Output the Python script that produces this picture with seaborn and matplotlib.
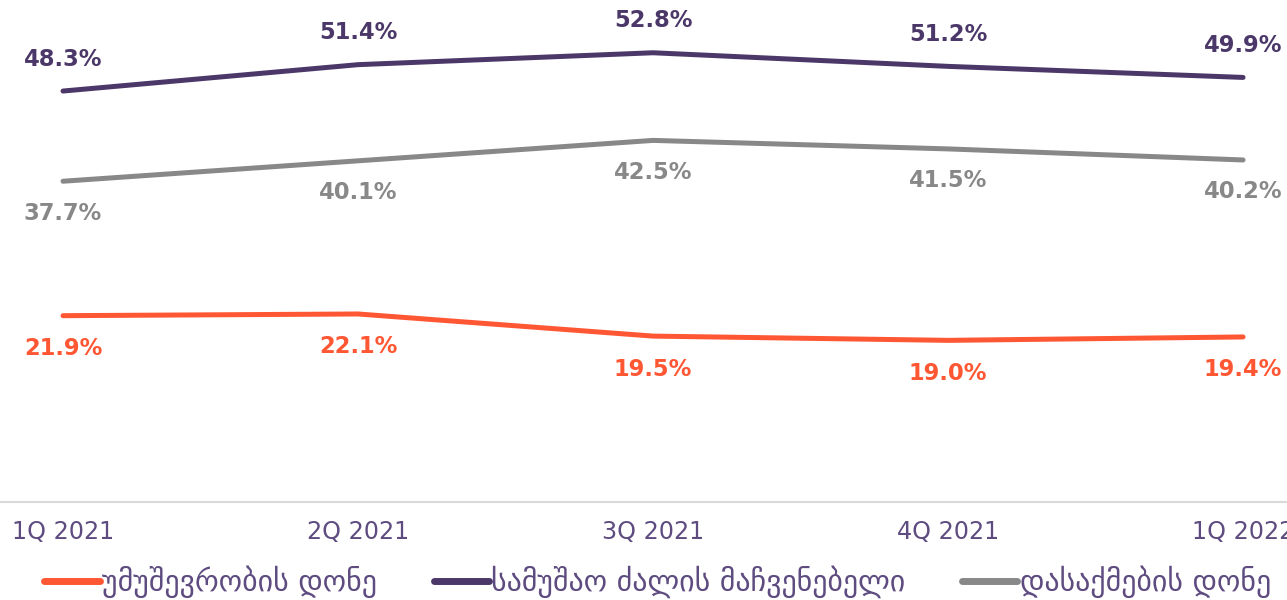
import matplotlib
matplotlib.use("Agg")
import matplotlib.pyplot as plt
import seaborn as sns
import pandas as pd
from matplotlib.lines import Line2D

quarters = ["1Q 2021", "2Q 2021", "3Q 2021", "4Q 2021", "1Q 2022"]
unemployment = [21.9, 22.1, 19.5, 19.0, 19.4]
labor_force = [48.3, 51.4, 52.8, 51.2, 49.9]
employment = [37.7, 40.1, 42.5, 41.5, 40.2]
series_names = ["უმუშევრობის დონე", "სამუშაო ძალის მაჩვენებელი", "დასაქმების დონე"]
colors = ["#FF5733", "#4B3869", "#888888"]

sns.set_theme(style="white")
plt.rcParams['font.family'] = ['DejaVu Sans']

rows = []
for name, vals in zip(series_names, [unemployment, labor_force, employment]):
    for i, (q, v) in enumerate(zip(quarters, vals)):
        rows.append({"idx": i, "quarter": q, "value": v, "series": name})
df = pd.DataFrame(rows)

fig = plt.figure(figsize=(12.87, 6.0), dpi=100)
ax = fig.add_axes([0, 0.1633, 1, 0.8367])
sns.lineplot(data=df, x="idx", y="value", hue="series", hue_order=series_names,
             palette=colors, linewidth=3.6, ax=ax, legend=False)
for line in ax.lines:
    line.set_solid_capstyle("round")

offsets = {series_names[0]: -33, series_names[1]: 32, series_names[2]: -32}
for name, vals, c in zip(series_names, [unemployment, labor_force, employment], colors):
    for i, v in enumerate(vals):
        ax.annotate(f"{v:.1f}%", (i, v), xytext=(0, offsets[name]), textcoords="offset pixels",
                    ha="center", va="center", fontsize=16.3, fontweight="bold", color=c)

ax.set_xlim(-0.2136, 4.149)
ax.set_ylim(0, 59.0)
ax.set_xticks(range(len(quarters)))
ax.set_xticklabels(quarters, fontsize=17.2, color="#5E4C80")
ax.tick_params(axis="x", length=0, pad=13)
ax.set_yticks([])
ax.set_xlabel("")
ax.set_ylabel("")
for s in ["top", "left", "right"]:
    ax.spines[s].set_visible(False)
ax.spines["bottom"].set_color("#D9D9D9")
ax.spines["bottom"].set_linewidth(1.5)

handles = [Line2D([0], [0], color=c, linewidth=5, solid_capstyle="round") for c in colors]
leg = fig.legend(handles, series_names, loc="center", bbox_to_anchor=(0.511, 0.03),
                 ncol=3, frameon=False, fontsize=21.5, handlelength=1.85,
                 handletextpad=0.08, columnspacing=1.9)
for t in leg.get_texts():
    t.set_color("#5E4C80")

fig.savefig("out.png", dpi=100)
